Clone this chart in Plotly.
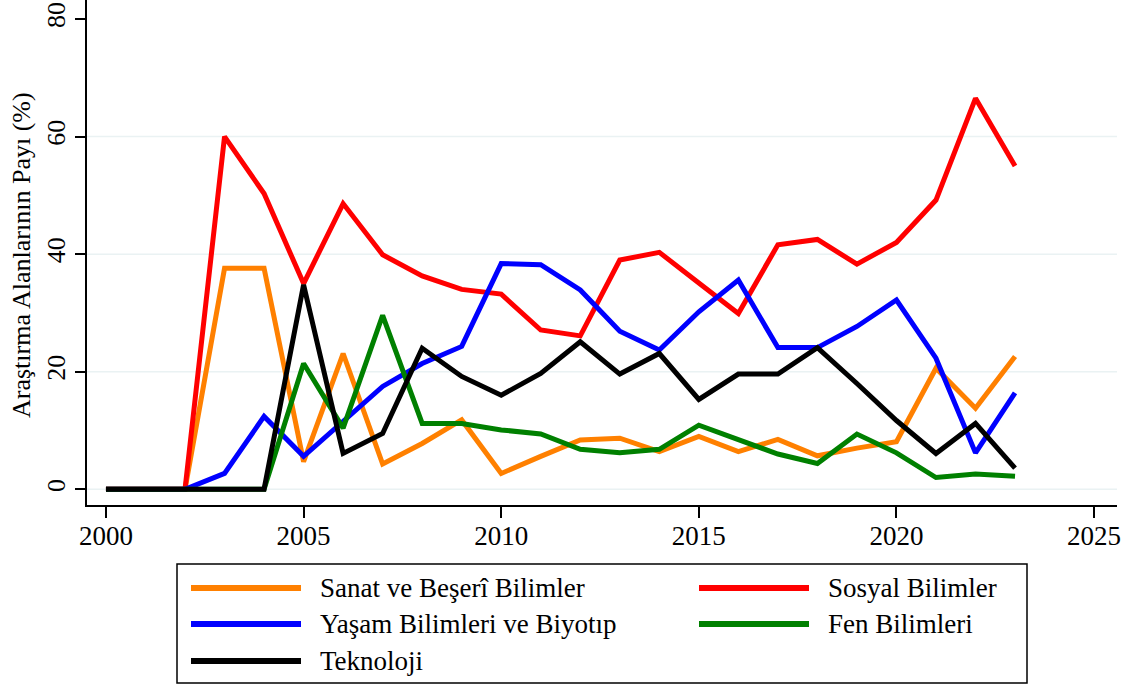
import plotly.graph_objects as go

years = list(range(2000, 2024))

sanat = [0, 0, 0, 37.6, 37.6, 4.7, 23.1, 4.3, 7.8, 11.8, 2.7, 5.6, 8.4,
         8.7, 6.4, 9.0, 6.4, 8.5, 5.7, 7.0, 8.1, 20.6, 13.8, 22.6]
sosyal = [0, 0, 0, 60.0, 50.3, 35.0, 48.6, 39.9, 36.3, 34.0, 33.2, 27.1, 26.1,
          39.0, 40.3, 35.1, 29.9, 41.6, 42.5, 38.3, 42.0, 49.2, 66.5, 55.0]
yasam = [0, 0, 0, 2.7, 12.4, 5.6, 11.5, 17.5, 21.4, 24.3, 38.4, 38.2, 33.9,
         26.9, 23.7, 30.2, 35.6, 24.1, 24.1, 27.7, 32.2, 22.3, 6.2, 16.4]
fen = [0, 0, 0, 0, 0, 21.4, 10.4, 29.6, 11.2, 11.2, 10.1, 9.4, 6.8,
       6.2, 6.8, 10.9, 8.5, 6.0, 4.4, 9.4, 6.2, 2.0, 2.6, 2.2]
teknoloji = [0, 0, 0, 0, 0, 34.8, 6.1, 9.5, 24.0, 19.2, 16.0, 19.7, 25.1,
             19.6, 23.1, 15.3, 19.6, 19.6, 24.1, 18.0, 11.7, 6.1, 11.2, 3.6]

names = ["Sanat ve Beşerî Bilimler", "Sosyal Bilimler",
         "Yaşam Bilimleri ve Biyotıp", "Fen Bilimleri", "Teknoloji"]
series = [sanat, sosyal, yasam, fen, teknoloji]
colors = ["#FF8000", "#FF0000", "#0000FF", "#008000", "#000000"]

x_ticks = [2000, 2005, 2010, 2015, 2020, 2025]
y_ticks = [0, 20, 40, 60, 80]
grid_vals = [0, 20, 40, 60]

FONT = "Liberation Serif, Times New Roman, serif"

FIG_W = 1137
FIG_H = 686
L = 87          # left edge of plot area
R = 1117        # right edge of plot area
B = 505         # bottom edge of plot area
W = float(R - L)
H = float(B)

fig = go.Figure()
for name, vals, col in zip(names, series, colors):
    fig.add_trace(go.Scatter(x=years, y=vals, mode="lines", name=name,
                             line=dict(color=col, width=5),
                             showlegend=False))

shapes = []
for g in grid_vals:
    shapes.append(dict(type="line", xref="paper", yref="y", x0=0, x1=1,
                       y0=g, y1=g, layer="below",
                       line=dict(color="#EAF2F3", width=1.5)))


def px(xp):
    return (xp - L) / W


def py(yp):
    return (H - yp) / H


shapes.append(dict(type="rect", xref="paper", yref="paper",
                   x0=px(177), x1=px(1027), y0=py(683), y1=py(564),
                   line=dict(color="black", width=1.5), fillcolor="white"))

positions = [(191, 588), (699, 588), (191, 624), (699, 624), (191, 661)]
annotations = []
for (name, col, (lx, ly)) in zip(names, colors, positions):
    shapes.append(dict(type="line", xref="paper", yref="paper",
                       x0=px(lx), x1=px(lx + 110), y0=py(ly), y1=py(ly),
                       line=dict(color=col, width=6)))
    annotations.append(dict(text=name, xref="paper", yref="paper",
                            x=px(lx + 127), y=py(ly), xanchor="left",
                            yanchor="middle", showarrow=False,
                            font=dict(family=FONT, size=27, color="black")))

annotations.append(dict(text="Araştırma Alanlarının Payı (%)", xref="paper",
                        yref="paper", x=px(21), y=py(255), textangle=-90,
                        xanchor="center", yanchor="middle", showarrow=False,
                        font=dict(family=FONT, size=26, color="black")))

# y: value 0 at page y 489.3, 80 at page y 19
ppu = (489.3 - 19.0) / 80.0
y_lo = -(B - 489.3) / ppu
y_hi = 489.3 / ppu

fig.update_layout(
    width=FIG_W, height=FIG_H,
    margin=dict(l=L, r=FIG_W - R, t=0, b=FIG_H - B, pad=0,
                autoexpand=False),
    paper_bgcolor="white", plot_bgcolor="white",
    font=dict(family=FONT, size=26, color="black"),
    shapes=shapes, annotations=annotations,
    xaxis=dict(range=[1999.52, 2025.58], tickvals=x_ticks,
               showgrid=False, zeroline=False, showline=True,
               linecolor="black", linewidth=1.5, ticks="outside",
               ticklen=11, tickwidth=1.5, tickcolor="black",
               ticklabelstandoff=-5, ticklabeloverflow="allow",
               automargin=False,
               tickfont=dict(family=FONT, size=27)),
    yaxis=dict(range=[y_lo, y_hi], tickvals=y_ticks,
               showgrid=False, zeroline=False, showline=True,
               linecolor="black", linewidth=1.5, ticks="outside",
               ticklen=10, tickwidth=1.5, tickcolor="black",
               ticklabeloverflow="allow", automargin=False,
               tickangle=-90, tickfont=dict(family=FONT, size=26)),
)

fig.write_html("out.html",
               config={"displayModeBar": False},
               post_script="document.body.style.margin='0';")
